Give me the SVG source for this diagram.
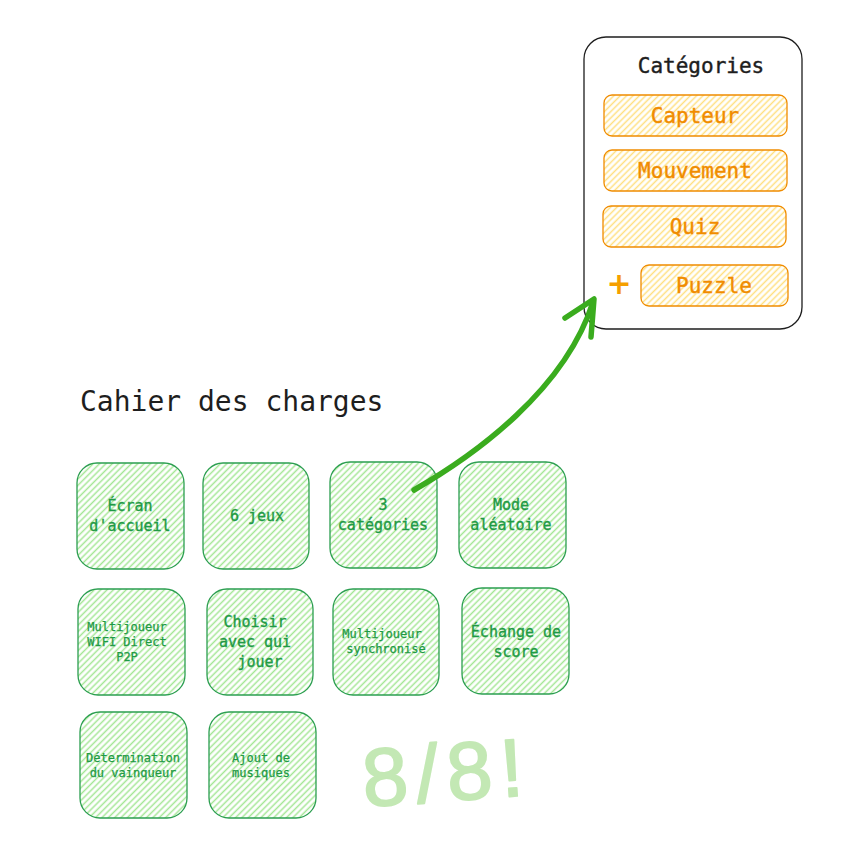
<svg xmlns="http://www.w3.org/2000/svg" width="866" height="852" viewBox="0 0 866 852">
<defs>
<pattern id="hg" patternUnits="userSpaceOnUse" width="4.5" height="4.5" patternTransform="rotate(-45)">
<line x1="0" y1="2.25" x2="4.5" y2="2.25" stroke="#a3e694" stroke-width="1.5"/>
</pattern>
<pattern id="ho" patternUnits="userSpaceOnUse" width="4.5" height="4.5" patternTransform="rotate(-45)">
<line x1="0" y1="2.25" x2="4.5" y2="2.25" stroke="#ffdf80" stroke-width="1.5"/>
</pattern>
</defs>
<style>
.g{fill:url(#hg);stroke:#2b9e50;stroke-width:1.3}
.o{fill:url(#ho);stroke:#f08c00;stroke-width:1.3}
.gt{fill:#1f9a45;stroke:#1f9a45;stroke-width:0.35;font-family:"DejaVu Sans Mono",monospace;text-anchor:middle;font-size:15px}
.gs{font-size:12px;stroke-width:0.25}
.ot{fill:#f08c00;stroke:#f08c00;stroke-width:0.4;font-family:"DejaVu Sans Mono",monospace;text-anchor:middle;font-size:21px}
</style>
<rect width="866" height="852" fill="#ffffff"/>
<g id="categories">
<rect x="584" y="37" width="218" height="292" rx="22" fill="#ffffff" stroke="#1e1e1e" stroke-width="1.3"/>
<text x="701" y="73" font-family="DejaVu Sans Mono,monospace" font-size="21" text-anchor="middle" fill="#1e1e1e" stroke="#1e1e1e" stroke-width="0.4">Catégories</text>
</g>
<g id="capteur"><rect class="o" x="604" y="95" width="183" height="41" rx="8"/><text class="ot" x="695" y="123">Capteur</text></g>
<g id="mouvement"><rect class="o" x="604" y="150" width="183" height="41" rx="8"/><text class="ot" x="695" y="178">Mouvement</text></g>
<g id="quiz"><rect class="o" x="603" y="206" width="183" height="41" rx="8"/><text class="ot" x="695" y="234">Quiz</text></g>
<g id="puzzle"><rect class="o" x="641" y="265" width="147" height="41" rx="8"/><text class="ot" x="714" y="293">Puzzle</text></g>
<g id="plus"><text x="619" y="294" font-family="DejaVu Sans,sans-serif" font-size="30" font-weight="bold" fill="#f59f00" text-anchor="middle">+</text></g>
<g id="title"><text x="80" y="411" font-family="DejaVu Sans Mono,monospace" font-size="28" fill="#1e1e1e">Cahier des charges</text></g>
<g id="n1"><rect class="g" x="77" y="463" width="107" height="106" rx="20"/><text class="gt" x="130" y="511">Écran</text><text class="gt" x="130" y="531">d'accueil</text></g>
<g id="n2"><rect class="g" x="203" y="463" width="106" height="106" rx="20"/><text class="gt" x="257" y="521">6 jeux</text></g>
<g id="n3"><rect class="g" x="330" y="462" width="107" height="106" rx="20"/><text class="gt" x="383" y="510">3</text><text class="gt" x="383" y="530">catégories</text></g>
<g id="n4"><rect class="g" x="459" y="462" width="107" height="106" rx="20"/><text class="gt" x="511" y="510">Mode</text><text class="gt" x="511" y="530">aléatoire</text></g>
<g id="n5"><rect class="g" x="78" y="589" width="107" height="106" rx="20"/><text class="gt gs" x="127" y="631">Multijoueur</text><text class="gt gs" x="127" y="646">WIFI Direct</text><text class="gt gs" x="127" y="661">P2P</text></g>
<g id="n6"><rect class="g" x="207" y="589" width="106" height="106" rx="20"/><text class="gt" x="255" y="627">Choisir</text><text class="gt" x="255" y="647">avec qui</text><text class="gt" x="260" y="667">jouer</text></g>
<g id="n7"><rect class="g" x="333" y="589" width="106" height="106" rx="20"/><text class="gt gs" x="382" y="638">Multijoueur</text><text class="gt gs" x="386" y="653">synchronisé</text></g>
<g id="n8"><rect class="g" x="462" y="588" width="107" height="106" rx="20"/><text class="gt" x="516" y="637">Échange de</text><text class="gt" x="516" y="657">score</text></g>
<g id="n9"><rect class="g" x="80" y="712" width="107" height="106" rx="20"/><text class="gt gs" x="133" y="762">Détermination</text><text class="gt gs" x="133" y="777">du vainqueur</text></g>
<g id="n10"><rect class="g" x="209" y="712" width="107" height="106" rx="20"/><text class="gt gs" x="261" y="762">Ajout de</text><text class="gt gs" x="261" y="777">musiques</text></g>
<g id="score"><text x="362" y="801" font-family="Liberation Sans,sans-serif" font-size="82" fill="#c3e8b4" stroke="#c3e8b4" stroke-width="1.8" stroke-linejoin="round" letter-spacing="8" transform="rotate(-4 445 770)">8/8!</text></g>
<g id="connectors" fill="none" stroke="#3aac1e" stroke-width="5.5" stroke-linecap="round" stroke-linejoin="round">
<path d="M414,490 C475,455 565,390 593,302"/>
<path d="M565,318 L594,299 L591,337"/>
</g>
</svg>
